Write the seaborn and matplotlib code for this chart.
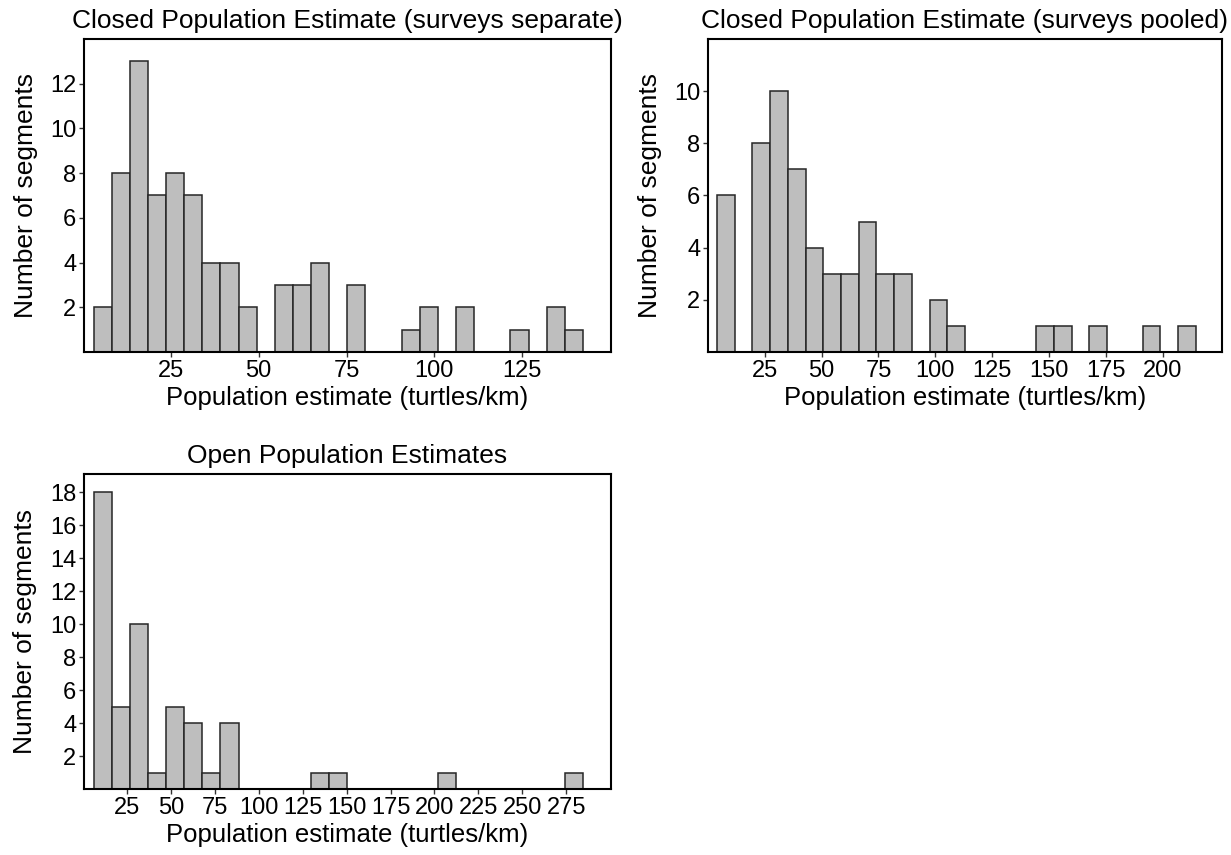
import numpy as np
import pandas as pd
import matplotlib
matplotlib.use("Agg")
import matplotlib.pyplot as plt
import seaborn as sns

# Segment counts per density bin (turtles/km)
separate_counts = [2, 8, 13, 7, 8, 7, 4, 4, 2, 0, 3, 3, 4, 0, 3, 0, 0, 1, 2, 0, 2, 0, 0, 1, 0, 2, 1]
separate_start, separate_width = 3.07, 5.155

pooled_counts = [6, 0, 8, 10, 7, 4, 3, 3, 5, 3, 3, 0, 2, 1, 0, 0, 0, 0, 1, 1, 0, 1, 0, 0, 1, 0, 1]
pooled_start, pooled_width = 4.02, 7.79

open_counts = [18, 5, 10, 1, 5, 4, 1, 4, 0, 0, 0, 0, 1, 1, 0, 0, 0, 0, 0, 1, 0, 0, 0, 0, 0, 0, 1]
open_start, open_width = 5.9, 10.32

titles = ["Closed Population Estimate (surveys separate)",
          "Closed Population Estimate (surveys pooled)",
          "Open Population Estimates"]
xlabel = "Population estimate (turtles/km)"
ylabel = "Number of segments"

sns.set_style("white")
plt.rcParams["font.family"] = ["Liberation Sans", "DejaVu Sans"]
plt.rcParams["text.color"] = "black"
plt.rcParams["axes.labelcolor"] = "black"
plt.rcParams["xtick.color"] = "black"
plt.rcParams["ytick.color"] = "black"

fig = plt.figure(figsize=(12.31, 8.55), dpi=100)

panels = [
    dict(counts=separate_counts, start=separate_start, width=separate_width,
         rect=[0.0682, 0.5883, 0.4281, 0.3661], xlim=(0.34, 150.2), ylim=(0, 14.0),
         xticks=[25, 50, 75, 100, 125], yticks=[2, 4, 6, 8, 10, 12], title=titles[0]),
    dict(counts=pooled_counts, start=pooled_start, width=pooled_width,
         rect=[0.5751, 0.5883, 0.4176, 0.3661], xlim=(0.1, 225.9), ylim=(0, 12.0),
         xticks=[25, 50, 75, 100, 125, 150, 175, 200], yticks=[2, 4, 6, 8, 10], title=titles[1]),
    dict(counts=open_counts, start=open_start, width=open_width,
         rect=[0.0682, 0.0772, 0.4281, 0.3684], xlim=(0.45, 300.5), ylim=(0, 19.1),
         xticks=[25, 50, 75, 100, 125, 150, 175, 200, 225, 250, 275],
         yticks=[2, 4, 6, 8, 10, 12, 14, 16, 18], title=titles[2]),
]

for p in panels:
    ax = fig.add_axes(p["rect"])
    n = len(p["counts"])
    edges = [float(p["start"] + p["width"] * i) for i in range(n + 1)]
    centers = [(edges[i] + edges[i + 1]) / 2 for i in range(n)]
    df = pd.DataFrame({"estimate": centers, "segments": p["counts"]})
    sns.histplot(data=df, x="estimate", weights="segments", bins=edges, ax=ax,
                 color="#bebebe", edgecolor="#262626", linewidth=1.1, alpha=1.0)
    ax.set_xlim(*p["xlim"])
    ax.set_ylim(*p["ylim"])
    ax.set_xticks(p["xticks"])
    ax.set_yticks(p["yticks"])
    ax.tick_params(axis="both", which="major", labelsize=17, length=3.5, width=1,
                   color="#333333", labelcolor="black", pad=2, direction="out",
                   bottom=True, left=True)
    ax.set_xlabel(xlabel, fontsize=18.5, labelpad=3, color="black")
    ax.set_ylabel(ylabel, fontsize=19, labelpad=9, color="black")
    ax.set_title(p["title"], fontsize=19, pad=8, color="black")
    for side in ["top", "right", "bottom", "left"]:
        ax.spines[side].set_visible(True)
        ax.spines[side].set_color("black")
        ax.spines[side].set_linewidth(1.5)

fig.savefig("out.png", dpi=100, facecolor="white")
